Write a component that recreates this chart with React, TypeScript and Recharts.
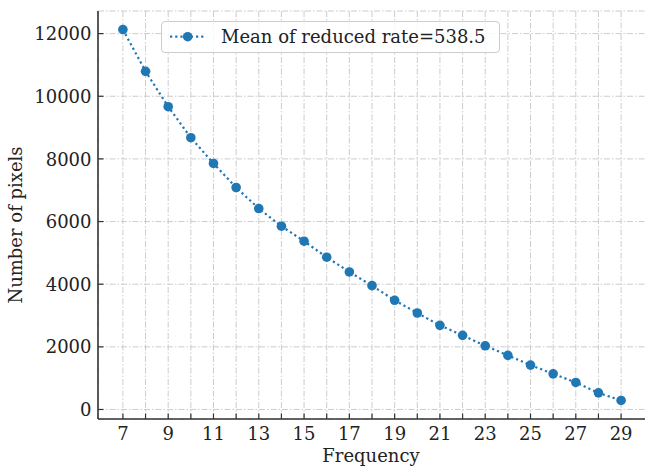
import { CartesianGrid, Label, Legend, Line, LineChart, XAxis, YAxis } from 'recharts'

const frequencies = [7, 8, 9, 10, 11, 12, 13, 14, 15, 16, 17, 18, 19, 20, 21, 22, 23, 24, 25, 26, 27, 28, 29]
const pixelCounts = [
  12130, 10796, 9667, 8676, 7855, 7087, 6415, 5852, 5372, 4861, 4391, 3953, 3486, 3080, 2686, 2366, 2034,
  1727, 1417, 1138, 863, 531, 288,
]
const yTicks = [0, 2000, 4000, 6000, 8000, 10000, 12000]
const seriesName = 'Mean of reduced rate=538.5'

const data = frequencies.map((freq, i) => ({ freq, pixels: pixelCounts[i] }))

const BLUE = '#1f77b4'
const AXIS = '#333333'
const FONT = '"DejaVu Serif", serif'

function XTick({ x, y, payload }: any) {
  return (
    <g>
      <line x1={x} x2={x} y1={y} y2={y - 5.5} stroke={AXIS} strokeWidth={1.2} />
      {payload.value % 2 === 1 && (
        <text x={x} y={y + 21} textAnchor="middle" fontSize={18} fontFamily={FONT} fill="#222">
          {payload.value}
        </text>
      )}
    </g>
  )
}

function YTick({ x, y, payload }: any) {
  return (
    <g>
      <line x1={x} x2={x + 5.5} y1={y} y2={y} stroke={AXIS} strokeWidth={1.2} />
      <text x={x - 6.5} y={y + 6.6} textAnchor="end" fontSize={18} fontFamily={FONT} fill="#222">
        {payload.value}
      </text>
    </g>
  )
}

function LegendBox() {
  return (
    <div
      style={{
        width: 337,
        height: 30,
        border: '1px solid #cccccc',
        borderRadius: 4,
        background: 'rgba(255,255,255,0.85)',
        position: 'relative',
        fontFamily: FONT,
      }}
    >
      <svg width={50} height={30} style={{ position: 'absolute', left: 0, top: 0 }}>
        <line x1={8} x2={42} y1={14.7} y2={14.7} stroke={BLUE} strokeWidth={2.2} strokeDasharray="2.2 3" />
        <circle cx={25.7} cy={14.7} r={4.8} fill={BLUE} />
      </svg>
      <svg width={300} height={30} style={{ position: 'absolute', left: 59, top: 0 }}>
        <text x={0} y={20.7} fontSize={18} fontFamily={FONT} fill="#222">
          {seriesName}
        </text>
      </svg>
    </div>
  )
}

export default function App() {
  return (
    <div
      style={{
        position: 'fixed',
        left: 0,
        top: 0,
        width: 645,
        height: 467,
        overflow: 'hidden',
        background: '#fff',
      }}
    >
      <LineChart width={646} height={467} data={data} margin={{ top: 11, right: 0, bottom: 0, left: 0 }}>
        <CartesianGrid stroke="#c6c6c6" strokeWidth={0.9} strokeDasharray="6 2 1.5 2" />
        <XAxis
          dataKey="freq"
          type="number"
          domain={[5.9, 30.1]}
          ticks={frequencies}
          allowDataOverflow
          height={48}
          tickSize={0}
          tickMargin={0}
          tickLine={false}
          tick={<XTick />}
          interval={0}
          axisLine={{ stroke: AXIS, strokeWidth: 1.6 }}
        >
          <Label
            content={() => (
              <text x={371} y={461.7} textAnchor="middle" fontSize={18} fontFamily={FONT} fill="#222">
                Frequency
              </text>
            )}
          />
        </XAxis>
        <XAxis
          xAxisId="top"
          orientation="top"
          type="number"
          domain={[5.9, 30.1]}
          height={0}
          tick={false}
          tickLine={false}
          axisLine={{ stroke: AXIS, strokeWidth: 1.6 }}
        />
        <YAxis
          type="number"
          domain={[-304, 12722]}
          ticks={yTicks}
          allowDataOverflow
          width={98}
          tickSize={0}
          tickMargin={0}
          tickLine={false}
          tick={<YTick />}
          interval={0}
          axisLine={{ stroke: AXIS, strokeWidth: 1.6 }}
        >
          <Label
            content={() => (
              <text
                x={22}
                y={225}
                transform="rotate(-90 22 225)"
                textAnchor="middle"
                fontSize={18}
                fontFamily={FONT}
                fill="#222"
              >
                Number of pixels
              </text>
            )}
          />
        </YAxis>
        <Legend
          layout="vertical"
          align="center"
          verticalAlign="middle"
          wrapperStyle={{ left: 161, top: 21, width: 'auto' }}
          content={() => <LegendBox />}
        />
        <Line
          dataKey="pixels"
          name={seriesName}
          stroke={BLUE}
          strokeWidth={2.2}
          strokeDasharray="2.2 3"
          dot={{ r: 4.8, fill: BLUE, stroke: BLUE, strokeWidth: 0 }}
          activeDot={false}
          isAnimationActive={false}
        />
      </LineChart>
    </div>
  )
}
